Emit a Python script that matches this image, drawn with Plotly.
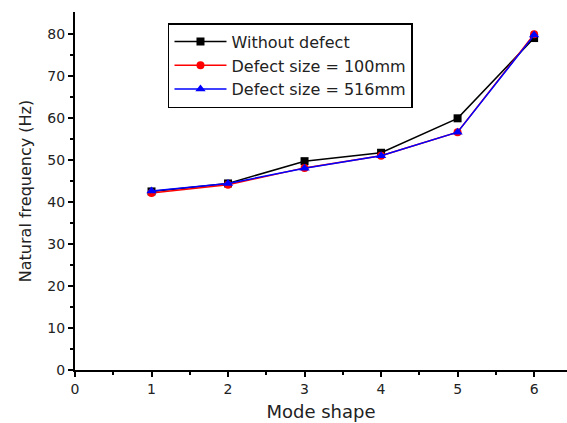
import plotly.graph_objects as go

modes = [1, 2, 3, 4, 5, 6]
without_defect = [42.5, 44.4, 49.7, 51.7, 59.9, 79.0]
defect_100 = [42.1, 44.1, 48.1, 51.0, 56.6, 79.9]
defect_516 = [42.6, 44.4, 48.0, 51.0, 56.6, 79.7]

fig = go.Figure()
fig.add_trace(go.Scatter(x=modes, y=without_defect, mode="lines+markers", name="Without defect",
                         line=dict(color="black", width=1.5),
                         marker=dict(symbol="square", size=8, color="black")))
fig.add_trace(go.Scatter(x=modes, y=defect_100, mode="lines+markers", name="Defect size = 100mm",
                         line=dict(color="red", width=1.5),
                         marker=dict(symbol="circle", size=8, color="red")))
fig.add_trace(go.Scatter(x=modes, y=defect_516, mode="lines+markers", name="Defect size = 516mm",
                         line=dict(color="blue", width=1.5),
                         marker=dict(symbol="triangle-up", size=9, color="blue")))

font = "DejaVu Sans, Liberation Sans, Arial, sans-serif"
fig.update_layout(
    width=567, height=423,
    margin=dict(l=75, r=0, t=12, b=53),
    plot_bgcolor="white", paper_bgcolor="white",
    font=dict(family=font, color="#222", size=14),
    showlegend=True,
    legend=dict(x=0.189, y=0.969, xanchor="left", yanchor="top",
                bordercolor="black", borderwidth=1.5, bgcolor="white",
                font=dict(size=16, color="#222"), tracegroupgap=0,
                itemwidth=52),
    xaxis=dict(range=[0, 6.43], tickvals=[0, 1, 2, 3, 4, 5, 6], showgrid=False, zeroline=False,
               showline=True, linecolor="black", linewidth=2, automargin=False,
               ticks="outside", ticklen=5, tickwidth=1.5, tickcolor="black",
               minor=dict(tickvals=[0.5, 1.5, 2.5, 3.5, 4.5, 5.5], ticks="outside", ticklen=3,
                          tickcolor="black", tickwidth=1.5),
               title=dict(text="Mode shape", font=dict(size=18, color="#222"), standoff=10),
               tickfont=dict(size=14)),
    yaxis=dict(range=[0, 85.2], tickvals=[0, 10, 20, 30, 40, 50, 60, 70, 80], showgrid=False, zeroline=False,
               showline=True, linecolor="black", linewidth=2, automargin=False,
               ticks="outside", ticklen=5, tickwidth=1.5, tickcolor="black",
               minor=dict(tickvals=[5, 15, 25, 35, 45, 55, 65, 75], ticks="outside", ticklen=3,
                          tickcolor="black", tickwidth=1.5),
               title=dict(text="Natural frequency (Hz)", font=dict(size=16, color="#222"), standoff=12),
               tickfont=dict(size=14)),
)

fig.write_html("out.html", config={"displayModeBar": False},
               post_script="document.body.style.margin='0';document.body.style.padding='0';")
